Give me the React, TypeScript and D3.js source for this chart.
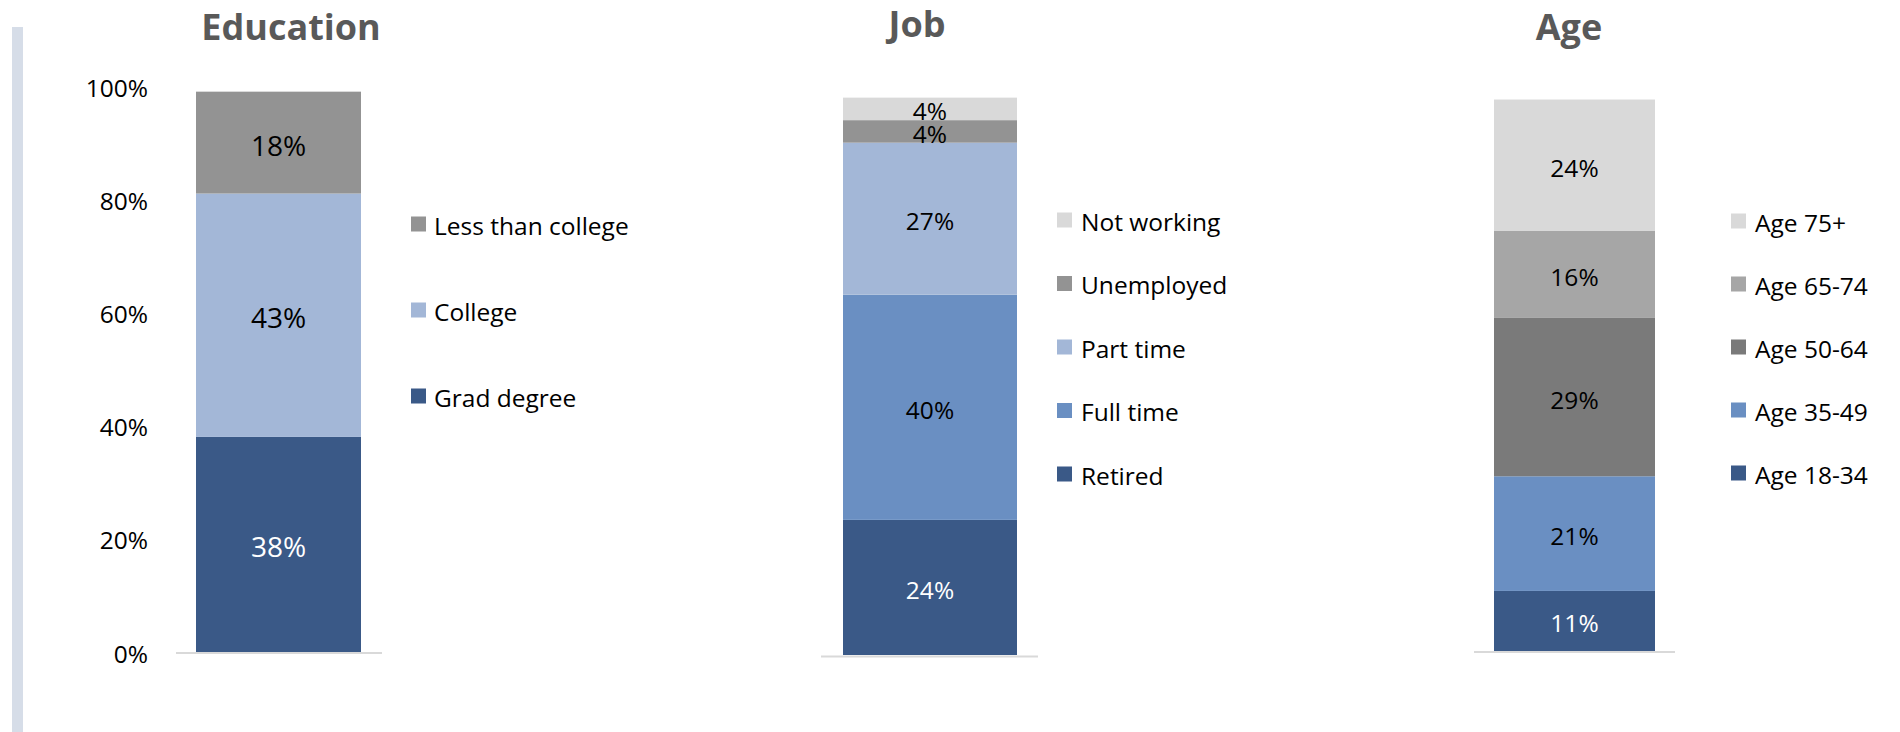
import React from 'react';
import * as d3 from 'd3';

// ---- Data ----
const titles = ['Education', 'Job', 'Age'];

const eduCategories = ['Grad degree', 'College', 'Less than college'];
const eduValues = [38, 43, 18];

const jobCategories = ['Retired', 'Full time', 'Part time', 'Unemployed', 'Not working'];
const jobValues = [24, 40, 27, 4, 4];

const ageCategories = ['Age 18-34', 'Age 35-49', 'Age 50-64', 'Age 65-74', 'Age 75+'];
const ageValues = [11, 21, 29, 16, 24];

const yTicks = [0, 20, 40, 60, 80, 100];

// ---- Styles ----
const NAVY = '#3a5987';
const MID_BLUE = '#6a8fc2';
const LIGHT_BLUE = '#a3b7d7';
const GRAY = '#939393';
const LIGHT_GRAY = '#d9d9d9';
const MED_GRAY = '#a6a6a6';
const DARK_GRAY = '#7a7a7a';

const FONT = "'Open Sans', 'Noto Sans', 'DejaVu Sans', sans-serif";

interface PanelLayout {
  title: string;
  categories: string[];
  values: number[];
  colors: string[];
  labelColors: string[];
  labelSize: number;
  barX: [number, number];
  y0: number;
  y100: number;
  lineX: [number, number];
  lineY: number;
  legendX: number;
  legendTextX: number;
  legendY0: number;
  legendStep: number;
  titleX: number;
  titleY: number;
  showAxis: boolean;
}

const panels: PanelLayout[] = [
  {
    title: titles[0],
    categories: eduCategories,
    values: eduValues,
    colors: [NAVY, LIGHT_BLUE, GRAY],
    labelColors: ['#ffffff', '#000000', '#000000'],
    labelSize: 28,
    barX: [196, 361],
    y0: 652,
    y100: 86,
    lineX: [176, 382],
    lineY: 653,
    legendX: 411,
    legendTextX: 434,
    legendY0: 224,
    legendStep: 86,
    titleX: 291,
    titleY: 40,
    showAxis: true,
  },
  {
    title: titles[1],
    categories: jobCategories,
    values: jobValues,
    colors: [NAVY, MID_BLUE, LIGHT_BLUE, GRAY, LIGHT_GRAY],
    labelColors: ['#ffffff', '#000000', '#000000', '#000000', '#000000'],
    labelSize: 24.5,
    barX: [843, 1017],
    y0: 655,
    y100: 92,
    lineX: [821, 1038],
    lineY: 656.5,
    legendX: 1057,
    legendTextX: 1081,
    legendY0: 220,
    legendStep: 63.5,
    titleX: 917,
    titleY: 37,
    showAxis: false,
  },
  {
    title: titles[2],
    categories: ageCategories,
    values: ageValues,
    colors: [NAVY, MID_BLUE, DARK_GRAY, MED_GRAY, LIGHT_GRAY],
    labelColors: ['#ffffff', '#000000', '#000000', '#000000', '#000000'],
    labelSize: 24.5,
    barX: [1494, 1655],
    y0: 651,
    y100: 105,
    lineX: [1474, 1675],
    lineY: 652,
    legendX: 1731,
    legendTextX: 1755,
    legendY0: 221,
    legendStep: 63,
    titleX: 1569,
    titleY: 40,
    showAxis: false,
  },
];

const pctFormat = (v: number) => `${Math.round(v)}%`;

function Panel({ p }: { p: PanelLayout }) {
  const y = d3.scaleLinear().domain([0, 100]).range([p.y0, p.y100]);
  const x = d3.scaleBand<string>().domain([p.title]).range(p.barX).padding(0);
  const row: Record<string, number> = {};
  p.categories.forEach((c, i) => (row[c] = p.values[i]));
  const series = d3.stack<Record<string, number>>().keys(p.categories)([row]);
  const bx = x(p.title) ?? 0;
  const bw = x.bandwidth();
  const legendOrder = p.categories.map((c, i) => i).reverse();
  const sq = 15;

  return (
    <g>
      <text
        x={p.titleX}
        y={p.titleY}
        textAnchor="middle"
        fontFamily={FONT}
        fontWeight={700}
        fontSize={36}
        fill="#595959"
      >
        {p.title}
      </text>

      {p.showAxis &&
        yTicks.map((t) => (
          <text
            key={t}
            x={148}
            y={y(t) + 1}
            textAnchor="end"
            dominantBaseline="central"
            fontFamily={FONT}
            fontSize={24.5}
            fill="#000000"
          >
            {pctFormat(t)}
          </text>
        ))}

      {series.map((s, i) => {
        const d = s[0];
        const top = y(d[1]);
        const bottom = y(d[0]);
        return (
          <g key={p.categories[i]}>
            <rect x={bx} y={top} width={bw} height={bottom - top} fill={p.colors[i]} />
            <text
              x={bx + bw / 2}
              y={(top + bottom) / 2 + 2}
              textAnchor="middle"
              dominantBaseline="central"
              fontFamily={FONT}
              fontSize={p.labelSize}
              fill={p.labelColors[i]}
            >
              {pctFormat(p.values[i])}
            </text>
          </g>
        );
      })}

      <line x1={p.lineX[0]} x2={p.lineX[1]} y1={p.lineY} y2={p.lineY} stroke="#d9d9d9" strokeWidth={2} />

      {legendOrder.map((ci, k) => {
        const cy = p.legendY0 + k * p.legendStep;
        return (
          <g key={p.categories[ci]}>
            <rect x={p.legendX} y={cy - sq / 2} width={sq} height={sq} fill={p.colors[ci]} />
            <text
              x={p.legendTextX}
              y={cy + 1}
              dominantBaseline="central"
              fontFamily={FONT}
              fontSize={24.5}
              fill="#000000"
            >
              {p.categories[ci]}
            </text>
          </g>
        );
      })}
    </g>
  );
}

export default function App() {
  return (
    <svg
      width={1900}
      height={732}
      viewBox="0 0 1900 732"
      style={{ position: 'absolute', left: 0, top: 0, display: 'block', background: '#ffffff' }}
    >
      <rect x={0} y={0} width={1900} height={732} fill="#ffffff" />
      <rect x={12} y={27} width={11} height={705} fill="#d6dde8" />
      {panels.map((p) => (
        <Panel key={p.title} p={p} />
      ))}
    </svg>
  );
}
